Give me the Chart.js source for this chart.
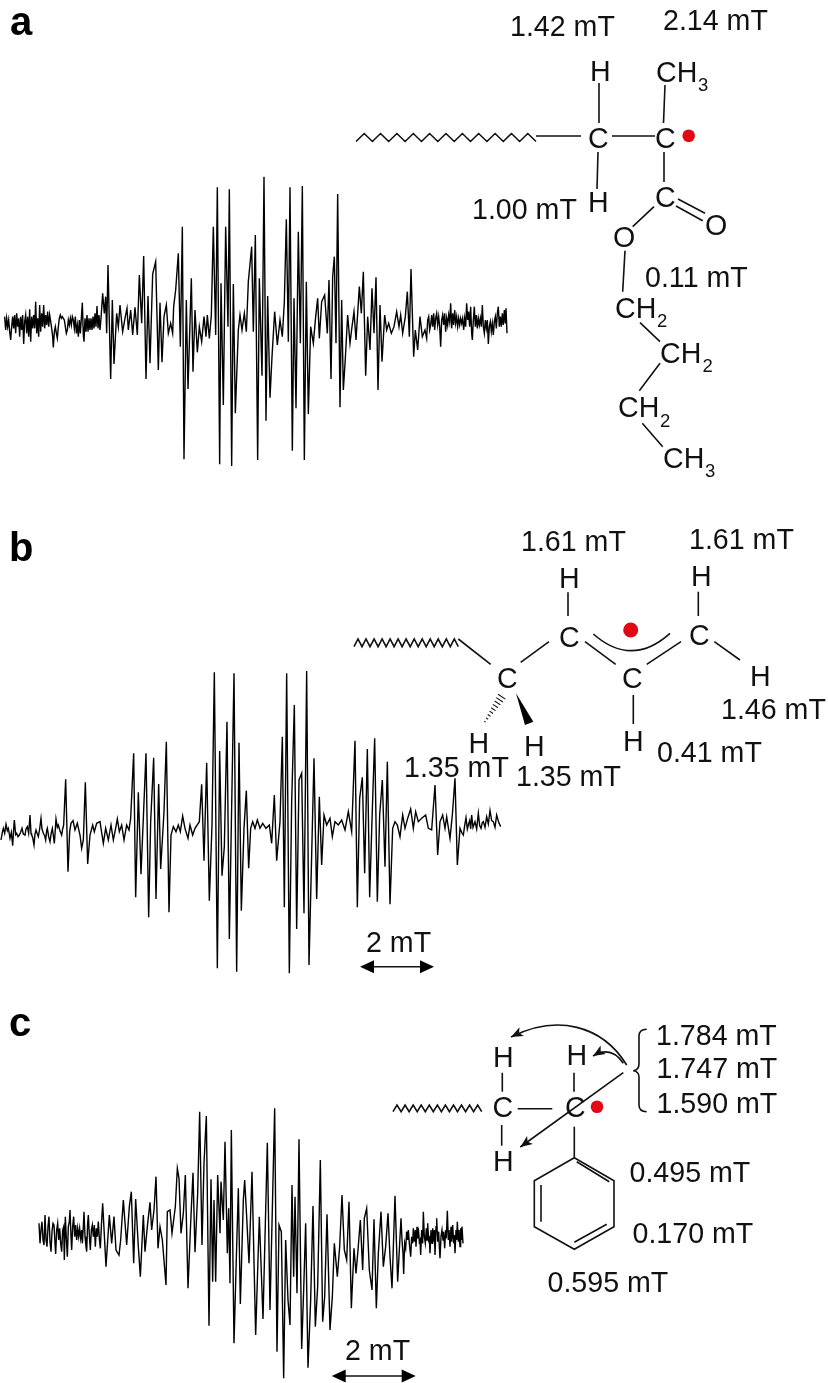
<!DOCTYPE html>
<html><head><meta charset="utf-8">
<script src="https://cdn.jsdelivr.net/npm/chart.js@4"></script>
<style>
html,body{margin:0;padding:0;background:#fff;}
#page{position:relative;width:828px;height:1383px;overflow:hidden;}
canvas{position:absolute;}
svg{position:absolute;left:0;top:0;}
svg text{font-family:"Liberation Sans",Arial,sans-serif;font-size:28.6px;fill:#111;}
svg text.s{font-size:18.5px;}
svg text.p{font-size:40px;font-weight:bold;fill:#000;}
svg .b{stroke:#111;stroke-width:1.6;fill:none;}
</style></head><body><div id="page">
<canvas id="ca" width="510" height="300" style="left:0;top:170px"></canvas>
<canvas id="cb" width="510" height="310" style="left:0;top:665px"></canvas>
<canvas id="cc" width="440" height="283" style="left:30px;top:1100px"></canvas>
<svg id="art" width="828" height="1383" xmlns="http://www.w3.org/2000/svg"></svg>
</div>
<script>
// [field, signal] readings, arbitrary units
const spectrumA=[[14,20],[17,-20],[20,15],[23,-10],[26,10],[29,-25],[32,-50],[35,-10],[38,20],[41,-15],[44,25],[47,-30],[50,30],[53,-10],[56,15],[59,-40],[62,20],[65,-20],[68,25],[71,-62],[74,5],[77,25],[80,-30],[83,20],[86,-40],[89,42],[92,-55],[95,20],[98,-15],[101,25],[104,-15],[107,65],[110,-30],[113,15],[116,-40],[119,55],[122,-25],[125,30],[128,-10],[131,55],[134,-15],[137,25],[140,-5],[143,35],[146,-10],[149,25],[152,5],[155,-15],[158,-40],[160,-72],[163,-25],[166,-10],[169,-30],[172,-45],[175,-10],[178,15],[181,25],[184,15],[187,20],[190,15],[193,10],[196,-10],[199,-30],[202,-20],[205,10],[208,-5],[211,15],[214,-5],[217,20],[220,10],[223,-15],[226,20],[229,-30],[232,-5],[235,-40],[238,10],[241,-30],[244,15],[247,62],[250,-35],[252,-55],[255,15],[258,-25],[261,25],[264,-25],[267,15],[270,-20],[273,15],[276,-20],[279,20],[282,-15],[285,30],[288,-10],[291,52],[294,-15],[297,25],[300,-20],[303,15],[308,90],[313,30],[317,80],[320,-30],[324,175],[332,-167],[337,70],[342,-122],[350,30],[355,-10],[360,55],[368,-25],[376,20],[381,45],[385,-20],[392,40],[398,-35],[405,48],[412,-35],[418,145],[425,0],[431,202],[438,-167],[444,82],[450,-120],[458,148],[467,185],[475,-140],[480,62],[486,-117],[492,20],[499,55],[505,-30],[512,0],[518,-30],[521,50],[527,100],[535,210],[541,-70],[547,290],[552,-408],[559,70],[564,-197],[574,135],[579,-145],[585,40],[592,-87],[598,-10],[605,-55],[612,20],[618,-40],[622,25],[628,-45],[634,25],[640,290],[647,-35],[652,408],[659,-423],[663,120],[670,-245],[677,290],[684,-10],[688,402],[695,-428],[700,118],[706,-270],[715,-20],[720,25],[726,-20],[733,30],[739,-25],[745,125],[755,230],[760,-25],[766,265],[773,-410],[778,135],[786,-157],[792,440],[798,-292],[803,82],[810,-223],[816,-100],[824,35],[832,-65],[840,10],[847,-40],[853,65],[859,312],[865,-55],[870,408],[877,-382],[882,75],[888,-255],[895,275],[901,-60],[907,412],[913,-410],[919,125],[925,-272],[932,-10],[940,-60],[947,20],[953,75],[958,-45],[965,65],[974,85],[982,-30],[987,130],[993,-167],[998,140],[1003,200],[1008,-60],[1013,388],[1020,-252],[1025,70],[1030,-200],[1036,-105],[1043,25],[1050,-60],[1056,-10],[1062,35],[1068,-50],[1078,110],[1084,30],[1090,155],[1097,-157],[1103,20],[1110,-80],[1116,105],[1122,-30],[1128,138],[1134,-200],[1140,55],[1146,-115],[1154,25],[1160,-20],[1166,0],[1174,-30],[1182,-10],[1190,35],[1197,-10],[1202,25],[1208,-30],[1216,20],[1222,95],[1228,-40],[1233,163],[1241,-100],[1246,-20],[1253,-80],[1260,20],[1267,-40],[1275,-20],[1280,-45],[1283,10],[1286,20],[1289,-20],[1292,-5],[1295,25],[1298,-10],[1301,30],[1304,-20],[1307,15],[1310,30],[1313,-5],[1316,20],[1319,-10],[1322,-70],[1325,10],[1328,25],[1331,-5],[1334,30],[1337,-25],[1340,15],[1343,-5],[1346,25],[1349,5],[1352,60],[1355,-15],[1358,30],[1361,-5],[1364,40],[1367,0],[1370,20],[1373,-10],[1376,15],[1379,-5],[1382,15],[1385,0],[1388,15],[1391,-20],[1394,15],[1397,-10],[1400,60],[1403,10],[1406,35],[1409,-10],[1412,50],[1415,-30],[1417,-50],[1420,10],[1423,50],[1426,-10],[1429,25],[1432,-15],[1435,15],[1438,-5],[1441,15],[1444,-10],[1447,55],[1450,-10],[1453,-30],[1456,10],[1459,-15],[1462,10],[1465,-62],[1468,-10],[1471,5],[1474,-25],[1477,0],[1480,-35],[1483,5],[1486,20],[1489,-15],[1492,30],[1495,50],[1498,-10],[1501,20],[1504,-10],[1507,30],[1510,-5],[1513,40],[1516,0],[1518,45],[1521,-30]];
const spectrumB=[[3,-28],[7,-5],[10,7],[14,-8],[18,19],[22,0],[25,7],[28,-10],[30,-23],[34,-5],[38,-45],[41,5],[43,32],[47,-12],[50,-8],[54,-18],[58,-13],[62,-5],[66,7],[70,-10],[75,-13],[78,5],[82,12],[86,-8],[90,47],[93,-8],[95,-13],[98,-20],[102,-43],[105,-10],[108,2],[112,-10],[115,-18],[119,5],[123,37],[126,5],[130,-8],[134,-15],[137,-28],[140,0],[142,7],[146,-18],[150,-33],[154,-5],[157,7],[160,-15],[163,-38],[166,5],[168,35],[172,10],[175,17],[180,0],[185,-13],[188,5],[191,17],[197,154],[204,-123],[209,-3],[213,22],[219,30],[225,2],[232,22],[240,-13],[245,-53],[250,-28],[256,145],[263,-100],[270,-13],[278,17],[283,-3],[290,22],[300,27],[310,-38],[317,7],[325,-28],[333,17],[340,-28],[345,-3],[352,35],[358,-3],[365,17],[372,-28],[380,17],[387,2],[392,37],[401,232],[407,-200],[415,115],[423,-131],[430,37],[438,232],[446,-260],[452,27],[461,219],[468,-205],[476,140],[482,-115],[492,57],[499,267],[507,-245],[513,-13],[520,12],[528,-3],[535,17],[541,-3],[548,44],[555,7],[564,-23],[570,17],[578,-13],[585,7],[598,27],[605,139],[612,-90],[620,204],[628,-210],[636,17],[643,475],[652,-413],[659,239],[666,-135],[673,-48],[681,327],[688,-325],[702,472],[710,-423],[717,264],[724,-240],[732,7],[739,120],[746,-113],[752,7],[758,27],[765,7],[772,32],[780,7],[788,22],[798,7],[808,17],[815,-38],[823,107],[830,-90],[840,27],[847,282],[853,-230],[860,472],[868,-428],[875,87],[883,377],[890,-295],[897,152],[905,172],[912,-248],[920,479],[927,-403],[942,217],[950,-205],[958,102],[965,-103],[972,47],[980,17],[990,37],[997,-18],[1005,27],[1015,17],[1025,32],[1035,2],[1045,57],[1055,-3],[1065,270],[1072,-230],[1079,97],[1087,160],[1094,-128],[1102,245],[1109,-200],[1116,32],[1124,277],[1132,-213],[1139,47],[1147,152],[1155,-108],[1162,207],[1170,-221],[1178,7],[1185,27],[1192,17],[1200,-18],[1208,47],[1215,7],[1223,37],[1232,65],[1240,7],[1247,57],[1255,27],[1265,37],[1277,47],[1285,7],[1295,2],[1305,137],[1313,-73],[1320,27],[1328,47],[1335,7],[1340,42],[1350,-23],[1357,47],[1365,157],[1372,-103],[1380,7],[1385,-5],[1390,-13],[1394,15],[1398,39],[1402,5],[1405,17],[1409,30],[1412,5],[1415,47],[1419,10],[1425,27],[1430,5],[1435,52],[1439,15],[1443,7],[1447,25],[1450,27],[1455,10],[1460,42],[1465,20],[1470,60],[1475,30],[1480,27],[1485,10],[1490,47],[1496,25],[1502,12]];
const spectrumC=[[117,30],[120,-30],[123,10],[126,35],[129,-20],[132,-35],[135,55],[138,-20],[141,-40],[144,20],[147,50],[150,-25],[153,-55],[156,5],[159,30],[162,25],[165,-30],[167,-62],[170,10],[173,30],[176,-20],[179,15],[182,-30],[185,-55],[188,10],[191,20],[193,-80],[196,50],[199,-15],[202,-70],[205,20],[208,35],[210,70],[213,-10],[215,-50],[218,20],[221,50],[224,-10],[227,25],[230,-20],[233,15],[236,-10],[239,15],[242,-15],[245,10],[247,-30],[250,20],[252,65],[255,-10],[258,-40],[260,-55],[263,30],[265,55],[268,-5],[271,-50],[274,10],[277,25],[280,-10],[283,25],[286,-40],[289,15],[292,-10],[295,35],[298,-15],[301,-45],[304,20],[308,90],[318,-100],[328,55],[335,-30],[342,50],[348,-50],[357,-65],[362,-20],[370,100],[380,-35],[388,80],[394,125],[401,-90],[407,103],[415,-40],[421,-130],[430,55],[435,-55],[442,20],[450,93],[455,10],[462,70],[468,170],[474,-45],[480,20],[487,-20],[498,-155],[502,65],[510,70],[516,0],[526,80],[532,195],[537,165],[543,0],[550,60],[556,175],[564,-165],[572,30],[579,182],[585,-57],[593,120],[599,365],[606,-35],[612,210],[619,352],[627,-277],[633,162],[638,-145],[642,100],[647,-145],[653,175],[660,0],[663,155],[670,40],[675,275],[682,-60],[686,75],[690,-150],[694,310],[702,-330],[708,-110],[715,135],[721,-212],[730,100],[734,160],[740,50],[747,-90],[756,185],[767,-305],[778,50],[789,-257],[802,272],[810,-230],[824,375],[831,-355],[837,25],[844,5],[851,-435],[857,-20],[864,-200],[870,-275],[876,145],[881,-130],[885,110],[891,-180],[897,282],[905,-347],[911,-170],[917,30],[924,-403],[932,-200],[939,82],[946,-280],[953,-160],[961,220],[968,-265],[974,-190],[981,57],[990,-290],[997,-190],[1003,-30],[1012,-130],[1019,-40],[1026,115],[1033,-50],[1040,-80],[1047,95],[1054,-225],[1062,-45],[1068,-120],[1074,-50],[1081,40],[1088,-110],[1093,45],[1100,75],[1108,-110],[1116,-170],[1122,42],[1129,-225],[1135,-60],[1143,65],[1150,-100],[1157,-40],[1164,60],[1170,-70],[1176,-165],[1185,113],[1193,-145],[1203,45],[1206,-20],[1209,-60],[1211,-122],[1214,-30],[1217,-45],[1220,5],[1223,-20],[1225,10],[1228,-30],[1232,-70],[1235,-10],[1238,-30],[1240,15],[1243,-25],[1246,10],[1248,-40],[1251,20],[1253,-15],[1255,15],[1258,-25],[1260,-20],[1262,-65],[1265,10],[1268,-30],[1270,65],[1273,-10],[1276,-30],[1279,15],[1281,-20],[1283,30],[1286,-20],[1288,-15],[1290,-60],[1293,10],[1296,-30],[1298,15],[1301,-25],[1303,10],[1305,-65],[1308,20],[1310,45],[1313,-25],[1316,5],[1318,-40],[1320,-75],[1323,-10],[1326,10],[1329,-20],[1331,5],[1334,-45],[1337,10],[1339,-15],[1342,68],[1345,-20],[1347,10],[1350,-40],[1353,20],[1355,-25],[1358,25],[1361,-30],[1363,-5],[1365,-60],[1368,10],[1370,-20],[1372,35],[1375,-25],[1377,10],[1380,-40],[1382,15],[1384,-20],[1386,20],[1389,-30]];

function spectrum(id,data,xMin,xMax,yMin,yMax){
  new Chart(document.getElementById(id),{type:'line',
    data:{datasets:[{data:data,borderColor:'#000',borderWidth:1.4,pointRadius:0,tension:0,fill:false}]},
    options:{responsive:false,animation:false,events:[],layout:{padding:0},
      plugins:{legend:{display:false},tooltip:{enabled:false},title:{display:false}},
      scales:{x:{type:'linear',display:false,min:xMin,max:xMax},y:{type:'linear',display:false,min:yMin,max:yMax}}}});
}
spectrum('ca',spectrumA,0,1530,-440,460);
spectrum('cb',spectrumB,0,1530,-433,497);
spectrum('cc',spectrumC,90,1410,-449,400);

// structures
const L=(x1,y1,x2,y2)=>`<line class="b" x1="${x1}" y1="${y1}" x2="${x2}" y2="${y2}"/>`;
const T=(s,x,y,c)=>`<text x="${x}" y="${y}"${c?` class="${c}"`:''}>${s}</text>`;
function wave(x1,x2,n,yTop,yBot){let p=[];for(let i=0;i<=n;i++){p.push((x1+(x2-x1)*i/n).toFixed(1)+','+(i%2?yTop:yBot));}
  return `<polyline class="b" points="${p.join(' ')}"/>`;}
const dot=(x,y,r)=>`<circle cx="${x}" cy="${y}" r="${r}" fill="#e30613"/>`;
function dbl(x1,x2,y,hw,hl){return L(x1+hl-2,y,x2-hl+2,y)+
  `<path fill="#000" d="M${x1},${y} L${x1+hl},${y-hw} L${x1+hl},${y+hw} Z M${x2},${y} L${x2-hl},${y-hw} L${x2-hl},${y+hw} Z"/>`;}
let a='';
a+=`<defs><marker id="ah" markerUnits="userSpaceOnUse" markerWidth="14" markerHeight="12" refX="12" refY="5" orient="auto"><path d="M0,0 L12,5 L0,10 L3,5 Z" fill="#111"/></marker></defs>`;
// panel a
a+=T('a',10,35,'p');
a+=T('1.42 mT',510,36)+T('2.14 mT',663,30)+T('1.00 mT',472,219)+T('0.11 mT',645,287);
a+=T('H',590,81)+T('CH',656,81.5)+T('3',698,90.5,'s')+T('C',588,147.5)+T('C',655,147.5)+T('H',588,212)+T('C',655,206.5)+T('O',705,235)+T('O',613,246.5);
a+=T('CH',615,317.5)+T('2',657,326.5,'s')+T('CH',660,362.5)+T('2',702.5,371.5,'s')+T('CH',618,416.5)+T('2',660,426.5,'s')+T('CH',663,468)+T('3',705,477,'s');
a+=wave(356,536,22,133.5,141.5)+L(536,136,581,136)+L(612,136,655,136)+L(599,83,599,123)+L(665,85,663.5,123)+L(598,152,597,189)+L(664,152,664,182);
a+=L(678,199,705,213.3)+L(676,206,702.7,220.7)+L(654,206.7,632.7,226.7)+L(625,250.7,622.7,291.7)+L(640,322.7,660,341.7)+L(660,363.3,639.3,390.7)+L(642.3,423.3,662.7,446.7);
a+=dot(688.7,135.7,6.3);
// panel b
a+=T('b',9,561,'p');
a+=T('1.61 mT',521,550.5)+T('1.61 mT',689,549)+T('1.46 mT',721,719)+T('0.41 mT',657,761.5)+T('1.35 mT',404,776.5)+T('1.35 mT',516,785.5);
a+=T('H',559,587.5)+T('H',691,586)+T('C',559,646.5)+T('C',689,645)+T('C',622,688)+T('C',497,688)+T('H',750,685.5)+T('H',623,751)+T('H',468.5,753)+T('H',524,756);
a+=wave(354,458.3,26,639,646.7)+L(458.3,639,490.7,664.3)+L(520.7,662.3,549,641.7)+L(585,641.7,615.7,664.3)+L(646.7,664.3,681,641.7)+L(568,592.3,568,616)+L(698.3,591.7,698.3,616)+L(714.3,641.7,740,660)+L(633.3,695,633.3,724);
a+=`<path class="b" d="M593.3,634 Q631.7,667.7 670,633.3"/>`+dot(630.7,630,7.5);
a+=`<path fill="#000" d="M516,693.3 L533.3,721.7 L525,725 Z"/>`;
for(let i=0;i<9;i++){const t=i/8,cx=501.7-16.7*t,cy=696.7+25*t,h=4.4-3.6*t;a+=`<line x1="${cx-h*0.83}" y1="${cy-h*0.55}" x2="${cx+h*0.83}" y2="${cy+h*0.55}" stroke="#111" stroke-width="1.1"/>`;}
a+=T('2 mT',366,951.5)+dbl(360,434,966.7,6.5,14);
// panel c
a+=T('c',9,1036,'p');
a+=T('1.784 mT',656,1045)+T('1.747 mT',656.5,1077.5)+T('1.590 mT',656.5,1113)+T('0.495 mT',629.5,1181.5)+T('0.170 mT',632.5,1242.5)+T('0.595 mT',547.5,1291.5);
a+=T('H',493,1067)+T('H',566.5,1065)+T('C',492.5,1117)+T('C',565,1117)+T('H',493,1171);
a+=wave(393,481.7,22,1105,1111.7)+L(517.7,1108.7,552.3,1108.7)+L(502.3,1072.7,502.3,1091.7)+L(574,1072.7,574,1091.7)+L(501.7,1125,501.7,1145.7)+L(574.3,1126.7,574.3,1157.7);
a+=`<polygon class="b" points="574.3,1157.7 614,1180.7 614,1226.7 574.3,1249.3 534.3,1226.7 534.3,1180.7"/>`;
a+=L(576.7,1161.7,609.3,1181.7)+L(541,1185,541,1221.7)+L(574.3,1242.3,606.7,1224.3);
a+=dot(597,1106.7,6.3);
a+=`<line class="b" x1="623.3" y1="1072.7" x2="520.3" y2="1147" marker-end="url(#ah)"/>`;
a+=`<path class="b" d="M626.7,1065 C602,1025 557,1014 511,1037" marker-end="url(#ah)"/>`;
a+=`<path class="b" d="M623.3,1063.3 Q611,1045 593,1056" marker-end="url(#ah)"/>`;
a+=`<path class="b" d="M646.7,1029.3 Q639,1029.5 639,1036 L639,1064 Q639,1070 633.3,1070.7 Q639,1071.5 639,1077 L639,1105 Q639,1111.5 646.7,1111.7"/>`;
a+=T('2 mT',345,1360)+dbl(331.7,415.7,1376,6.5,14);
document.getElementById('art').innerHTML=a;
</script>
</body></html>
